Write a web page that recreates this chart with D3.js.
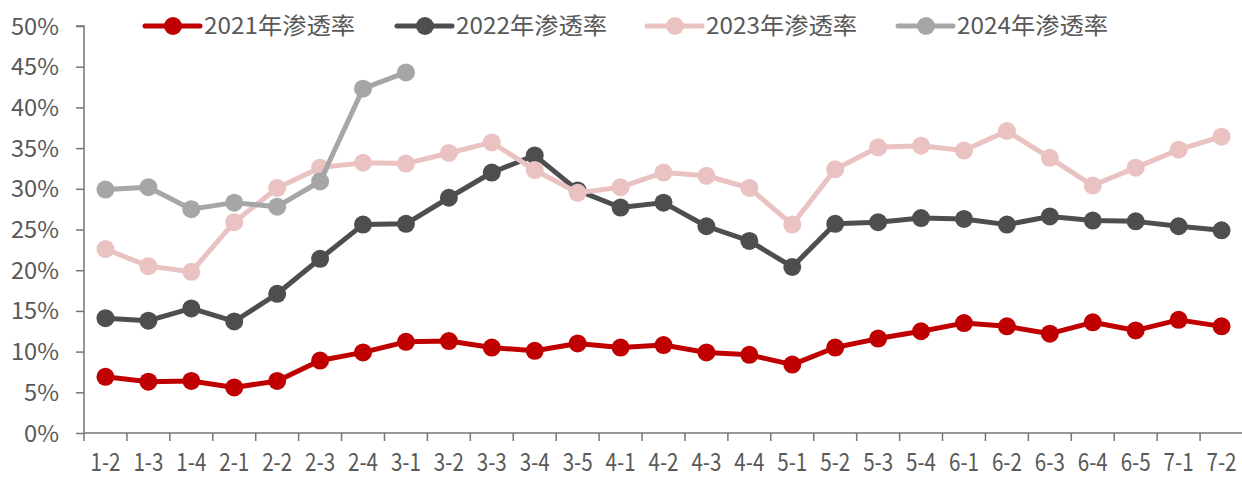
<!DOCTYPE html>
<html>
<head>
<meta charset="utf-8">
<script src="https://cdn.jsdelivr.net/npm/d3@7"></script>
<style>
  body { margin: 0; background: #fff; }
  #chart { width: 1242px; height: 478px; }
  text { font-family: "Noto Sans CJK SC", "Open Sans", sans-serif; fill: #595959; }
</style>
</head>
<body>
<div id="chart"></div>
<script>
const categories = ["1-2","1-3","1-4","2-1","2-2","2-3","2-4","3-1","3-2","3-3","3-4","3-5","4-1","4-2","4-3","4-4","5-1","5-2","5-3","5-4","6-1","6-2","6-3","6-4","6-5","7-1","7-2"];

const yTicks = [0, 0.05, 0.1, 0.15, 0.2, 0.25, 0.3, 0.35, 0.4, 0.45, 0.5];

const seriesNames = ["2021年渗透率", "2022年渗透率", "2023年渗透率", "2024年渗透率"];
const seriesColors = ["#C00000", "#4D4E50", "#EAC2C2", "#A6A6A6"];

const values2021 = [0.069,0.063,0.064,0.056,0.064,0.089,0.099,0.112,0.113,0.105,0.101,0.110,0.105,0.108,0.099,0.096,0.084,0.105,0.116,0.125,0.135,0.131,0.122,0.136,0.126,0.139,0.131];
const values2022 = [0.141,0.138,0.153,0.137,0.171,0.214,0.256,0.257,0.289,0.320,0.341,0.298,0.277,0.283,0.254,0.236,0.204,0.257,0.259,0.264,0.263,0.256,0.266,0.261,0.260,0.254,0.249];
const values2023 = [0.226,0.205,0.198,0.259,0.301,0.326,0.332,0.331,0.344,0.357,0.323,0.295,0.302,0.320,0.316,0.301,0.256,0.324,0.351,0.353,0.347,0.371,0.338,0.304,0.326,0.348,0.364];
const values2024 = [0.299,0.302,0.275,0.283,0.278,0.309,0.423,0.443];

const allSeries = [values2021, values2022, values2023, values2024];

const margin = { top: 26, right: 0, bottom: 45, left: 84 };
const container_width = 1242;
const container_height = 478;
const width = container_width - margin.left - margin.right + 1;
const height = container_height - margin.top - margin.bottom;

const svg = d3.select("#chart")
  .append("svg")
  .attr("width", container_width)
  .attr("height", container_height)
  .append("g")
  .attr("transform", `translate(${margin.left},${margin.top})`);

const x = d3.scaleBand().domain(categories).range([0, width]);
const y = d3.scaleLinear().domain([0, 0.5]).range([height, 0]);

// Y axis
const yAxis = svg.append("g")
  .call(d3.axisLeft(y).tickValues(yTicks).tickFormat(d3.format(".0%")).tickSize(8).tickPadding(17));
yAxis.selectAll("path, line").attr("stroke", "#767676").attr("stroke-width", 1.5);
yAxis.selectAll("text")
  .style("font-size", "23px")
  .attr("dy", "0.35em")
  .attr("textLength", (d) => (d >= 0.1 ? 48 : 35))
  .attr("lengthAdjust", "spacingAndGlyphs");
yAxis.select(".domain").attr("d", `M-8,0H0V${height}`);

// X axis, ticks at band boundaries
const xAxis = svg.append("g").attr("transform", `translate(0,${height})`);
xAxis.append("line")
  .attr("x1", 0).attr("x2", width)
  .attr("stroke", "#767676").attr("stroke-width", 1.5);
xAxis.selectAll(".xtick")
  .data(categories)
  .enter()
  .append("line")
  .attr("x1", (d) => x(d)).attr("x2", (d) => x(d))
  .attr("y1", 0).attr("y2", 8)
  .attr("stroke", "#767676").attr("stroke-width", 1.5);
xAxis.selectAll(".xlabel")
  .data(categories)
  .enter()
  .append("text")
  .attr("x", (d) => x(d) + x.bandwidth() / 2 - 15)
  .attr("y", 38)
  .style("font-size", "25px")
  .attr("textLength", 30)
  .attr("lengthAdjust", "spacingAndGlyphs")
  .text((d) => d);

// Lines and markers
const line = d3.line()
  .x((d, i) => x(categories[i]) + x.bandwidth() / 2)
  .y((d) => y(d));

allSeries.forEach((vals, s) => {
  const g = svg.append("g");
  g.append("path")
    .datum(vals)
    .attr("d", line)
    .attr("fill", "none")
    .attr("stroke", seriesColors[s])
    .attr("stroke-width", 5)
    .attr("stroke-linejoin", "round");
  g.selectAll("circle")
    .data(vals)
    .enter()
    .append("circle")
    .attr("cx", (d, i) => x(categories[i]) + x.bandwidth() / 2)
    .attr("cy", (d) => y(d))
    .attr("r", 9)
    .attr("fill", seriesColors[s]);
});

// Legend
const legendX = [145, 397, 647, 898];
const legend = d3.select("#chart svg").append("g");
seriesNames.forEach((name, s) => {
  const lg = legend.append("g").attr("transform", `translate(${legendX[s]},26)`);
  lg.append("line")
    .attr("x1", 0).attr("x2", 55)
    .attr("stroke", seriesColors[s])
    .attr("stroke-width", 5)
    .attr("stroke-linecap", "round");
  lg.append("circle").attr("cx", 28).attr("r", 9).attr("fill", seriesColors[s]);
  lg.append("text")
    .attr("x", 59)
    .attr("dy", "0.35em")
    .style("font-size", "23px")
    .attr("textLength", 151)
    .attr("lengthAdjust", "spacingAndGlyphs")
    .text(name);
});
</script>
</body>
</html>
